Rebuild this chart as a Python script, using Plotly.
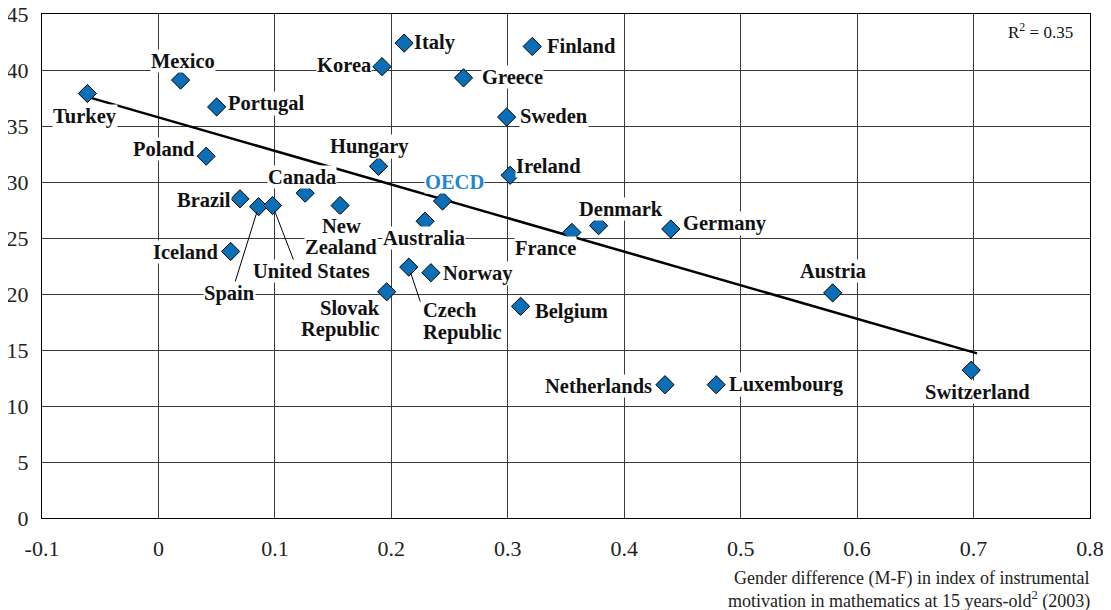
import plotly.graph_objects as go

# ---- data ----
countries = ["Turkey", "Mexico", "Portugal", "Poland", "Brazil", "Spain", "United States",
             "Iceland", "Canada", "New Zealand", "Hungary", "Korea", "Italy",
             "Slovak Republic", "Czech Republic", "Norway", "Australia", "OECD",
             "Greece", "Finland", "Sweden", "Ireland", "Belgium", "France", "Denmark",
             "Germany", "Netherlands", "Luxembourg", "Austria", "Switzerland"]
gender_diff = [-0.061, 0.019, 0.050, 0.041, 0.070, 0.086, 0.098,
               0.062, 0.126, 0.156, 0.189, 0.192, 0.211,
               0.196, 0.215, 0.234, 0.229, 0.244,
               0.262, 0.321, 0.299, 0.302, 0.311, 0.355, 0.378,
               0.440, 0.435, 0.479, 0.579, 0.698]
share_values = [37.9, 39.1, 36.7, 32.3, 28.5, 27.8, 27.9,
                23.8, 29.0, 27.9, 31.4, 40.3, 42.4,
                20.2, 22.4, 21.9, 26.5, 28.3,
                39.3, 42.1, 35.8, 30.6, 18.9, 25.5, 26.1,
                25.8, 11.9, 11.9, 20.1, 13.2]
trend_x = [-0.061, 0.703]
trend_y = [37.6, 14.7]
x_ticks = [-0.1, 0, 0.1, 0.2, 0.3, 0.4, 0.5, 0.6, 0.7, 0.8]
x_tick_text = ["-0.1", "0", "0.1", "0.2", "0.3", "0.4", "0.5", "0.6", "0.7", "0.8"]
y_ticks = [0, 5, 10, 15, 20, 25, 30, 35, 40, 45]
y_tick_text = ["0", "5", "10", "15", "20", "25", "30", "35", "40", "45"]
x_title_lines = ["Gender difference (M-F) in index of instrumental",
                 "motivation in mathematics at 15 years-old<sup>2</sup> (2003)"]
r2_text = "R<sup>2</sup> = 0.35"
label_lines = {"New Zealand": ["New", "Zealand"],
               "Slovak Republic": ["Slovak", "Republic"],
               "Czech Republic": ["Czech", "Republic"]}

# ---- label placement (styling: anchor, x shift, y shift(s) of each line in px) ----
label_style = {
    "Turkey": ("center", -2, [-23]), "Mexico": ("center", 2, [19]),
    "Portugal": ("left", 10, [3]), "Poland": ("right", -10, [7]),
    "Brazil": ("right", -8, [-1]), "Spain": ("center", -29, [-87]),
    "United States": ("center", 39, [-65]), "Iceland": ("right", -11, [-1]),
    "Canada": ("center", -3, [16]), "New Zealand": ("center", 1, [-20, -41]),
    "Hungary": ("center", -9, [20]), "Korea": ("right", -10, [2]),
    "Italy": ("left", 9, [1]), "Slovak Republic": ("right", -6, [-16, -38]),
    "Czech Republic": ("left", 13, [-43, -65]),
    "Norway": ("left", 11, [-1]), "Australia": ("center", -1, [-17]),
    "OECD": ("center", 12, [19]), "Greece": ("left", 17, [1]),
    "Finland": ("left", 14, [0]), "Sweden": ("left", 12, [1]),
    "Ireland": ("left", 5, [9]), "Belgium": ("left", 13, [-5]),
    "France": ("center", -26, [-16]), "Denmark": ("center", 22, [17]),
    "Germany": ("left", 11, [6]), "Netherlands": ("right", -12, [-1]),
    "Luxembourg": ("left", 12, [0]), "Austria": ("center", 0, [22]),
    "Switzerland": ("center", 6, [-22]),
}
leader_style = {  # thin leader lines from marker to label: tail offset (ax, ay) px
    "Spain": (-24, 77), "United States": (22, 57), "Czech Republic": (12, 36),
}

SERIF = "Liberation Serif"
LABEL_FONT = dict(family=SERIF, size=20.5, color="#111", weight="bold")
GRID = "#3a3a3a"

fig = go.Figure()
fig.add_trace(go.Scatter(x=trend_x, y=trend_y, mode="lines",
                         line=dict(color="black", width=2.5), hoverinfo="skip",
                         showlegend=False))
fig.add_trace(go.Scatter(x=gender_diff, y=share_values, mode="markers", text=countries,
                         marker=dict(symbol="diamond", size=14, color="#0a6fb6",
                                     line=dict(color="black", width=1)),
                         showlegend=False))

annotations = []
for name, xv, yv in zip(countries, gender_diff, share_values):
    if name in leader_style:
        ax, ay = leader_style[name]
        annotations.append(dict(x=xv, y=yv, xref="x", yref="y", text="", showarrow=True,
                                ax=ax, ay=ay, arrowhead=0, arrowwidth=1, arrowcolor="black",
                                standoff=6))
    anchor, dx, dys = label_style[name]
    lines = label_lines.get(name, [name])
    font = dict(LABEL_FONT)
    if name == "OECD":
        font["color"] = "#1f86d0"
    # draw lower lines first so upper lines sit on top
    for line, dy in reversed(list(zip(lines, dys))):
        annotations.append(dict(x=xv, y=yv, xref="x", yref="y", text=line, showarrow=False,
                                xanchor=anchor, yanchor="middle", xshift=dx, yshift=dy,
                                font=font, bgcolor="white", borderpad=0))

annotations.append(dict(x=0.986, y=0.992, xref="paper", yref="paper", text=r2_text,
                        showarrow=False, xanchor="right", yanchor="top",
                        font=dict(family=SERIF, size=17, color="#111")))
for line, ypos in zip(x_title_lines, [-0.121, -0.163]):
    annotations.append(dict(x=1.002, y=ypos, xref="paper", yref="paper", text=line,
                            showarrow=False, xanchor="right", yanchor="middle",
                            font=dict(family=SERIF, size=18, color="#222")))

# page body adds an 8px margin, so the figure is sized to fit the 1111x610 window
fig.update_layout(
    width=1103, height=602,
    margin=dict(l=34, r=21, t=6, b=92),
    paper_bgcolor="white", plot_bgcolor="white",
    annotations=annotations,
    xaxis=dict(range=[-0.1, 0.8], tickvals=x_ticks, ticktext=x_tick_text,
               showgrid=True, gridcolor=GRID, gridwidth=1, zeroline=False,
               showline=True, linecolor="black", linewidth=1.2, mirror=True,
               ticks="", ticklabelstandoff=10, automargin=False, ticklabeloverflow="allow",
               tickfont=dict(family=SERIF, size=22, color="#222")),
    yaxis=dict(range=[0, 45], tickvals=y_ticks, ticktext=y_tick_text,
               showgrid=True, gridcolor=GRID, gridwidth=1, zeroline=False,
               showline=True, linecolor="black", linewidth=1.2, mirror=True,
               ticks="", ticklabelstandoff=8, automargin=False, ticklabeloverflow="allow",
               tickfont=dict(family=SERIF, size=22, color="#222")),
)

fig.write_html("out.html")
